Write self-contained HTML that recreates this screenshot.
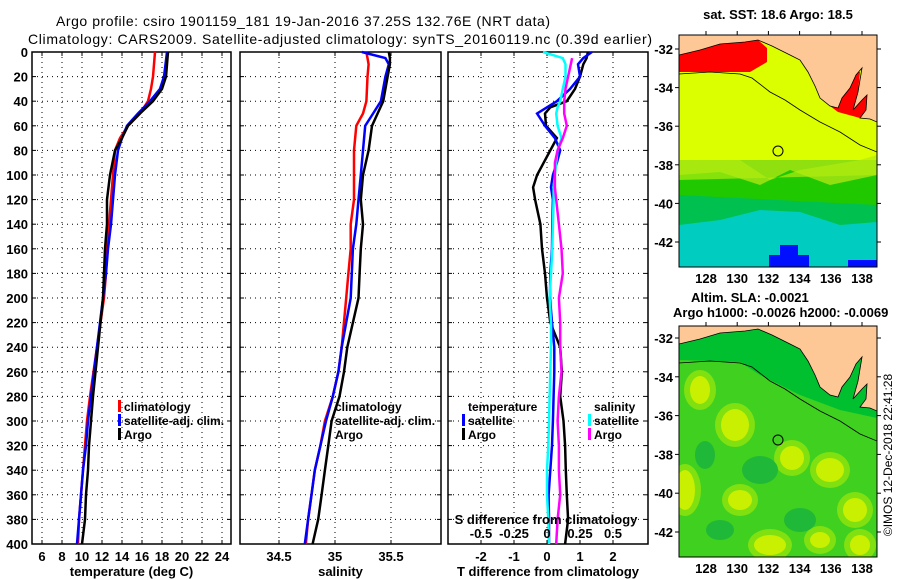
<!DOCTYPE html>
<html><head><meta charset="utf-8"><style>
html,body{margin:0;padding:0;background:#fff;}
svg{display:block;font-family:"Liberation Sans",sans-serif;}
</style></head><body>
<svg id="chart" width="900" height="580" viewBox="0 0 900 580">
<text x="56" y="26" font-size="14" textLength="494">Argo profile: csiro 1901159_181 19-Jan-2016 37.25S 132.76E (NRT data)</text>
<text x="28" y="44" font-size="14" textLength="624">Climatology: CARS2009. Satellite-adjusted climatology: synTS_20160119.nc (0.39d earlier)</text>
<g id="panels"></g>
<g id="maps"></g>
</svg>
<script>
// ---- data ----
const depthsT = [0,20,30,40,50,60,70,80,100,120,140,160,180,200,240,280,300,320,340,360,380,400];
const tempClim = [17.3,17.1,16.9,16.6,15.8,14.6,13.8,13.3,13.1,12.9,12.7,12.5,12.4,12.2,11.5,10.8,10.5,10.3,10.1,9.9,9.7,9.6];
const tempSat  = [18.5,18.2,17.8,16.8,15.6,14.5,14.0,13.6,13.3,13.1,12.9,12.6,12.4,12.1,11.5,10.9,10.6,10.4,10.1,9.9,9.7,9.5];
const tempArgo = [18.6,18.4,18.0,17.1,15.8,14.6,14.0,13.3,12.8,12.5,12.5,12.3,12.2,12.1,11.6,11.1,10.9,10.7,10.6,10.4,10.3,10.0];
const depthsS = [0,5,10,20,40,50,60,80,100,120,140,160,180,200,240,260,280,300,320,340,360,380,400];
const salClim = [35.28,35.29,35.30,35.29,35.28,35.25,35.19,35.17,35.17,35.17,35.14,35.14,35.12,35.10,35.06,35.03,34.98,34.91,34.87,34.82,34.79,34.76,34.74];
const salSat  = [35.24,35.45,35.48,35.45,35.41,35.34,35.27,35.25,35.23,35.21,35.19,35.16,35.15,35.14,35.06,35.03,34.98,34.92,34.87,34.82,34.79,34.76,34.73];
const salArgo = [35.48,35.49,35.49,35.47,35.43,35.38,35.33,35.30,35.25,35.23,35.25,35.23,35.22,35.21,35.11,35.08,35.04,34.97,34.94,34.91,34.88,34.85,34.80];
const depthsD = [0,5,10,20,30,40,45,50,60,70,80,90,100,110,120,140,160,180,200,220,240,260,280,300,320,340,360,380,400];
const dTArgo = [1.24,1.2,1.1,1.0,0.85,0.6,0.1,-0.06,-0.03,0.3,0.1,-0.1,-0.3,-0.42,-0.36,-0.2,-0.15,-0.06,0.0,0.1,0.4,0.45,0.4,0.5,0.55,0.57,0.6,0.64,0.55];
const dTSat  = [1.36,1.1,0.94,1.0,0.7,0.3,0.0,-0.3,-0.06,0.24,0.4,0.3,0.18,0.12,0.18,0.16,0.15,0.1,0.09,0.15,0.22,0.22,0.2,0.18,0.15,0.1,0.05,0.06,0.06];
const dSSat  = [-0.03,0.12,0.14,0.14,0.12,0.1,0.08,0.07,0.08,0.11,0.08,0.07,0.06,0.05,0.05,0.045,0.04,0.03,0.02,0.03,0.03,0.025,0.02,0.015,0.01,0.0,0.0,0.01,0.015];
const dSArgo = [null,0.19,0.18,0.16,0.14,0.13,0.13,0.13,0.15,0.12,0.08,0.06,0.06,0.06,0.07,0.09,0.11,0.12,0.09,0.1,0.1,0.11,0.09,0.08,0.09,0.09,0.1,0.08,0.07];
const depthTicks = [0,20,40,60,80,100,120,140,160,180,200,220,240,260,280,300,320,340,360,380,400];
const tempTicks = [6,8,10,12,14,16,18,20,22,24];
const salTicks = [34.5,35,35.5];
const dTTicks = [-2,-1,0,1,2];
const dSTicks = [-0.5,-0.25,0,0.25,0.5];
const dSTickLabels = ["-0.5","-0.25","0","0.25","0.5"];
const latTicks = [-32,-34,-36,-38,-40,-42];
const lonTicks = [128,130,132,134,136,138];

const NS='http://www.w3.org/2000/svg';
function el(tag,attrs,parent,txt){const e=document.createElementNS(NS,tag);for(const k in attrs)e.setAttribute(k,attrs[k]);if(txt!==undefined)e.textContent=txt;parent.appendChild(e);return e;}
const panels=document.getElementById('panels');
const Y0=52,YB=544;
const yD=d=>Y0+d*(YB-Y0)/400;

function panel(name,x0,x1,xScale,xTicks,xLabels,xTitle,showY){
  const g=el('g',{},panels);
  
  
  depthTicks.forEach(d=>{
    if(d>0&&d<400){const l=el('line',{x1:x0,x2:x1,y1:yD(d),y2:yD(d),stroke:'#000','stroke-dasharray':'1,4'},g);
    }
    el('line',{x1:x0,x2:x0+4,y1:yD(d),y2:yD(d),stroke:'#000'},g);
    el('line',{x1:x1-4,x2:x1,y1:yD(d),y2:yD(d),stroke:'#000'},g);
    if(showY){const tx=el('text',{x:x0-4,y:yD(d)+5,'font-size':13,'font-weight':'bold','text-anchor':'end'},g,String(d));
    }
  });
  xTicks.forEach((v,i)=>{
    const x=xScale(v);
    const l=el('line',{x1:x,x2:x,y1:Y0,y2:YB,stroke:'#000','stroke-dasharray':'1,4'},g);
    
    el('line',{x1:x,x2:x,y1:Y0,y2:Y0+4,stroke:'#000'},g);
    el('line',{x1:x,x2:x,y1:YB-4,y2:YB,stroke:'#000'},g);
    const tx=el('text',{x:x,y:561,'font-size':13,'font-weight':'bold','text-anchor':'middle'},g,xLabels[i]);
    
  });
  const fr=el('rect',{x:x0,y:Y0,width:x1-x0,height:YB-Y0,fill:'none',stroke:'#000','stroke-width':1.5},g);
  
  const tt=el('text',{x:(x0+x1)/2,y:576,'font-size':13,'font-weight':'bold','text-anchor':'middle'},g,xTitle);
  
  return g;
}
function series(g,name,depths,vals,xScale,color){
  let d='';let first=true;
  depths.forEach((dp,i)=>{if(vals[i]===null)return;d+=(first?'M':'L')+xScale(vals[i]).toFixed(1)+','+yD(dp).toFixed(1);first=false;});
  const p=el('path',{d:d,fill:'none',stroke:color,'stroke-width':2.5},g);
  
  
}
function legendEntry(g,x,y,color,label,name){
  if(color)el('rect',{x:x-6,y:y-11,width:3,height:12,fill:color},g);
  const t=el('text',{x:x,y:y,'font-size':12,'font-weight':'bold'},g,label);
  
  
}
// panel 1
const xT=v=>42+(v-6)*10;
const g1=panel('temperature-panel',32,231,xT,tempTicks,tempTicks.map(String),'temperature (deg C)',true);
series(g1,'temperature-climatology-line',depthsT,tempClim,xT,'#f00');
series(g1,'temperature-satellite-line',depthsT,tempSat,xT,'#00f');
series(g1,'temperature-argo-line',depthsT,tempArgo,xT,'#000');
legendEntry(g1,124,411,'#f00','climatology','legend-climatology');
legendEntry(g1,124,425,'#00f','satellite-adj. clim.','legend-satellite-adj');
legendEntry(g1,124,439,'#000','Argo','legend-argo');
// panel 2
const xS=v=>335+(v-35)*112;
const g2=panel('salinity-panel',240,441,xS,salTicks,salTicks.map(String),'salinity',false);
series(g2,'salinity-climatology-line',depthsS,salClim,xS,'#f00');
series(g2,'salinity-satellite-line',depthsS,salSat,xS,'#00f');
series(g2,'salinity-argo-line',depthsS,salArgo,xS,'#000');
legendEntry(g2,335,411,null,'climatology','legend-climatology');
legendEntry(g2,335,425,null,'satellite-adj. clim.','legend-satellite-adj');
legendEntry(g2,335,439,null,'Argo','legend-argo');
// panel 3
const xDT=v=>547+v*33;
const xDS=v=>547+v*132;
const g3=panel('difference-panel',448,648,xDT,dTTicks,dTTicks.map(String),'T difference from climatology',false);
series(g3,'dT-argo-line',depthsD,dTArgo,xDT,'#000');
series(g3,'dT-satellite-line',depthsD,dTSat,xDT,'#00f');
series(g3,'dS-satellite-line',depthsD,dSSat,xDS,'#0ff');
series(g3,'dS-argo-line',depthsD,dSArgo,xDS,'#f0f');
legendEntry(g3,468,411,null,'temperature','legend-temperature-header');
legendEntry(g3,468,425,'#00f','satellite','legend-t-satellite');
legendEntry(g3,468,439,'#000','Argo','legend-t-argo');
legendEntry(g3,594,411,null,'salinity','legend-salinity-header');
legendEntry(g3,594,425,'#0ff','satellite','legend-s-satellite');
legendEntry(g3,594,439,'#f0f','Argo','legend-s-argo');
const st=el('text',{x:546,y:524,'font-size':13,'font-weight':'bold','text-anchor':'middle'},g3,'S difference from climatology');

dSTicks.forEach((v,i)=>{const t=el('text',{x:xDS(v),y:538,'font-size':13,'font-weight':'bold','text-anchor':'middle'},g3,dSTickLabels[i]);
});

// ---- maps ----
const maps=document.getElementById('maps');
const MX0=679,MX1=877;
const lonX=l=>706+(l-128)*15.6;
function map(name,top,bottom,lat32,lat42,colors){
  const g=el('g',{},maps);
  
  
  const latY=l=>lat32+(-32-l)*(lat42-lat32)/10;
  const off=lat32-49;
  const clip=el('clipPath',{id:name+'-clip'},g);
  el('rect',{x:MX0,y:top,width:MX1-MX0,height:bottom-top},clip);
  const inner=el('g',{'clip-path':'url(#'+name+'-clip)'},g);
  colors(inner,off,top,bottom);
  const land=[[679,55],[700,50],[720,44],[745,42],[758,40],[772,46],[790,55],[800,60],[808,72],[815,86],[820,98],[830,106],[838,108],[842,98],[850,88],[856,75],[862,68],[858,92],[853,110],[862,100],[867,95],[866,110],[860,118],[870,119],[877,122],[877,top-off-10],[679,top-off-10]];
  const lp=el('polygon',{points:land.map(p=>p[0]+','+(p[1]+off)).join(' '),fill:'#fdc896',stroke:'#000','stroke-width':0.8},inner);
  
  const shelf=[[679,74],[710,72],[740,74],[752,78],[770,92],[785,100],[800,110],[820,122],[840,132],[860,145],[877,152]];
  el('polyline',{points:shelf.map(p=>p[0]+','+(p[1]+off)).join(' '),fill:'none',stroke:'#000','stroke-width':0.8},inner);
  const c=el('circle',{cx:778,cy:151+off,r:5,fill:'none',stroke:'#000','stroke-width':1},g);
  
  el('rect',{x:MX0,y:top,width:MX1-MX0,height:bottom-top,fill:'none',stroke:'#000','stroke-width':1},g);
  latTicks.forEach(l=>{const y=latY(l);el('line',{x1:MX0-4,x2:MX0,y1:y,y2:y,stroke:'#000'},g);el('line',{x1:MX1,x2:MX1+4,y1:y,y2:y,stroke:'#000'},g);
    const t=el('text',{x:MX0-6,y:y+5,'font-size':13,'font-weight':'bold','text-anchor':'end'},g,String(l));
    });
  lonTicks.forEach(l=>{const x=lonX(l);el('line',{x1:x,x2:x,y1:top-4,y2:top,stroke:'#000'},g);
    const t=el('text',{x:x,y:bottom+16,'font-size':13,'font-weight':'bold','text-anchor':'middle'},g,String(l));
    });
  return g;
}
map('sst-map',35,267,49,242,(g)=>{
  el('rect',{x:679,y:35,width:198,height:232,fill:'#dcff00'},g);
  el('rect',{x:679,y:160,width:198,height:50,fill:'#90e010'},g);
  el('polygon',{points:'679,175 720,172 760,185 790,170 830,185 877,175 877,215 679,215',fill:'#20c800'},g);
  el('polygon',{points:'679,195 877,205 877,235 679,235',fill:'#00c050'},g);
  el('polygon',{points:'679,225 720,220 760,210 800,212 840,225 877,222 877,267 679,267',fill:'#00ccc0'},g);
  el('polygon',{points:'679,160 740,160 770,180 800,170 860,160 877,155 877,175 679,180',fill:'#b0ec10','opacity':0.7},g);
  el('rect',{x:769,y:255,width:40,height:12,fill:'#0010ff'},g);
  el('rect',{x:780,y:245,width:18,height:12,fill:'#0010ff'},g);
  el('rect',{x:848,y:260,width:29,height:7,fill:'#0010ff'},g);
  el('polygon',{points:'679,55 700,50 720,44 745,42 758,40 767,48 767,62 750,72 679,72',fill:'#ff0000'},g);
  el('polygon',{points:'830,106 840,98 850,88 856,72 860,72 858,92 853,110 862,100 867,95 866,110 860,118 838,112',fill:'#ff0000'},g);
});
const t1=el('text',{x:778,y:19,'font-size':13,'font-weight':'bold','text-anchor':'middle'},maps,'sat. SST: 18.6 Argo: 18.5');

map('sla-map',326,557,338,532,(g)=>{
  el('rect',{x:679,y:326,width:198,height:231,fill:'#40d020'},g);
  el('polygon',{points:'679,360 740,362 760,375 800,395 840,410 877,418 877,326 679,326',fill:'#00c030'},g);
  [[735,425,14,16],[792,458,12,12],[685,490,10,20],[740,500,12,10],[830,470,14,12],[855,510,12,12],[700,390,10,14],[770,545,16,10],[860,545,10,10],[820,540,10,8]].forEach(b=>{
    el('ellipse',{cx:b[0],cy:b[1],rx:b[2]+6,ry:b[3]+6,fill:'#80e010'},g);
    el('ellipse',{cx:b[0],cy:b[1],rx:b[2],ry:b[3],fill:'#c8f000'},g);});
  [[760,470,18,14],[720,530,14,10],[800,520,16,12],[705,455,10,14]].forEach(b=>{
    el('ellipse',{cx:b[0],cy:b[1],rx:b[2],ry:b[3],fill:'#20b838'},g);});
});
const t2=el('text',{x:691,y:302,'font-size':13,'font-weight':'bold'},maps,'Altim. SLA: -0.0021');

const t3=el('text',{x:673,y:317,'font-size':13,'font-weight':'bold'},maps,'Argo h1000: -0.0026 h2000: -0.0069');

const t4=el('text',{x:892,y:455,'font-size':12,'text-anchor':'middle',transform:'rotate(-90 892 455)'},maps,'©IMOS 12-Dec-2018 22:41:28');

</script>
</body></html>
